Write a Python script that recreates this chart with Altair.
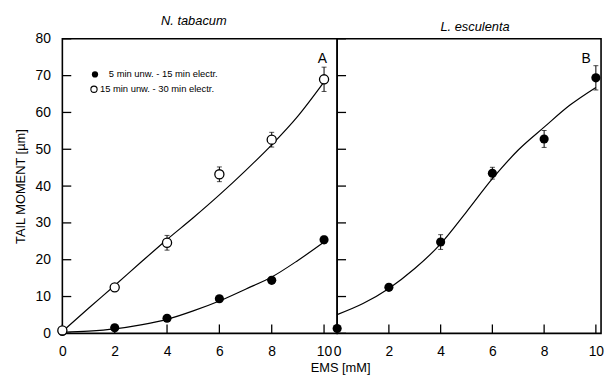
import altair as alt
import pandas as pd

# ---- data ----
dose = [0, 2, 4, 6, 8, 10]
tab_short = [0.5, 1.5, 4.1, 9.4, 14.4, 25.4]        # 5 min unw. - 15 min electr.
tab_short_err = [0.3, 0.5, 0.6, 0.7, 0.8, 1.0]
tab_long = [0.8, 12.5, 24.6, 43.2, 52.6, 69.0]      # 15 min unw. - 30 min electr.
tab_long_err = [0.6, 1.0, 2.0, 2.0, 2.0, 3.3]
esc_vals = [1.3, 12.5, 24.8, 43.5, 52.8, 69.4]
esc_err = [0.4, 0.8, 2.0, 1.6, 2.3, 3.3]

fit_x = [0, 1, 2, 3, 4, 5, 6, 7, 8, 9, 10]
fit_tab_short = [0.3, 0.6, 1.2, 2.3, 3.8, 6.1, 8.8, 12.0, 15.3, 19.8, 24.8]
fit_tab_long = [0.5, 6.8, 13.0, 19.3, 25.5, 31.4, 37.6, 44.2, 51.2, 59.0, 68.3]
fit_esc = [5.1, 8.1, 12.2, 17.6, 24.3, 33.0, 42.0, 49.8, 56.0, 62.0, 66.8]

y_ticks = [0, 10, 20, 30, 40, 50, 60, 70, 80]
x_ticks = [0, 2, 4, 6, 8, 10]
legend_labels = ["5 min unw. - 15 min electr.", "15 min unw. - 30 min electr."]
panel_titles = ["N. tabacum", "L. esculenta"]
panel_tags = ["A", "B"]

FONT = "Liberation Sans"
W1, W2, H = 278, 267, 298
TICK = 9

yscale = alt.Scale(domain=[0, 80], nice=False, zero=False)
xs1 = alt.Scale(domain=[0, 10.5], nice=False, zero=False)
xs2 = alt.Scale(domain=[0, 10.2], nice=False, zero=False)

ax_y1 = alt.Axis(values=y_ticks, ticks=False, domain=False, grid=False,
                 labelFontSize=14, labelPadding=12, labelFont=FONT,
                 title="TAIL MOMENT [µm]", titleFontSize=13, titleFont=FONT,
                 titleFontWeight="normal", titlePadding=8)
ax_y2 = alt.Axis(values=y_ticks, ticks=False, domain=False, grid=False,
                 labels=False, title=None)
ax_x1 = alt.Axis(values=x_ticks, ticks=False, domain=False, grid=False,
                 labelFontSize=14, labelPadding=11, labelFont=FONT, labelFlush=False,
                 title="EMS [mM]", titleFontSize=13, titleFont=FONT,
                 titleFontWeight="normal", titleX=W1 + 3, titlePadding=4)
ax_x2 = alt.Axis(values=x_ticks, ticks=False, domain=False, grid=False,
                 labelFontSize=14, labelPadding=11, labelFont=FONT, labelFlush=False,
                 title=None)


def panel(xscale, xaxis, yaxis, series, fits, width, tag, title, dx, legend):
    X = lambda f: alt.X(f, type="quantitative", scale=xscale, axis=xaxis)
    Y = lambda f: alt.Y(f, type="quantitative", scale=yscale, axis=yaxis)
    layers = []
    yt = pd.DataFrame({"v": y_ticks})
    xt = pd.DataFrame({"v": x_ticks})
    layers.append(alt.Chart(yt).mark_rule(color="black", strokeWidth=1.3).encode(
        y=Y("v"), x=alt.value(0), x2=alt.value(TICK)))
    layers.append(alt.Chart(xt).mark_rule(color="black", strokeWidth=1.3).encode(
        x=X("v"), y=alt.value(H), y2=alt.value(H - TICK)))
    for fx, fy in fits:
        df = pd.DataFrame({"x": fx, "y": fy})
        layers.append(alt.Chart(df).mark_line(color="black", strokeWidth=1.2,
                                              interpolate="monotone").encode(x=X("x"), y=Y("y")))
    for vals, errs, filled in series:
        df = pd.DataFrame({"x": dose, "y": vals,
                           "lo": [v - e for v, e in zip(vals, errs)],
                           "hi": [v + e for v, e in zip(vals, errs)]})
        layers.append(alt.Chart(df).mark_rule(color="black", strokeWidth=1).encode(
            x=X("x"), y=Y("lo"), y2=alt.Y2("hi")))
        layers.append(alt.Chart(df).mark_tick(color="black", orient="horizontal",
                                              size=5, thickness=1).encode(x=X("x"), y=Y("lo")))
        layers.append(alt.Chart(df).mark_tick(color="black", orient="horizontal",
                                              size=5, thickness=1).encode(x=X("x"), y=Y("hi")))
        if filled:
            m = alt.Chart(df).mark_point(filled=True, color="black", size=85, opacity=1)
        else:
            m = alt.Chart(df).mark_point(filled=False, fill="white", stroke="black",
                                         strokeWidth=1.3, size=85, opacity=1)
        layers.append(m.encode(x=X("x"), y=Y("y")))
    tagdf = pd.DataFrame({"t": [tag]})
    layers.append(alt.Chart(tagdf).mark_text(font=FONT, fontSize=14, align="center",
                                             baseline="middle", color="black").encode(
        text="t:N", x=alt.value(width - 15), y=alt.value(20)))
    if legend:
        ldf1 = pd.DataFrame({"t": [legend_labels[0]]})
        ldf2 = pd.DataFrame({"t": [legend_labels[1]]})
        layers.append(alt.Chart(ldf1).mark_point(filled=True, color="black", size=40, opacity=1).encode(
            x=alt.value(33), y=alt.value(36)))
        layers.append(alt.Chart(ldf2).mark_point(filled=False, fill="white", stroke="black",
                                                 strokeWidth=1.1, size=40, opacity=1).encode(
            x=alt.value(32), y=alt.value(51)))
        layers.append(alt.Chart(ldf1).mark_text(font=FONT, fontSize=9.5, align="left",
                                                baseline="middle", color="black").encode(
            text="t:N", x=alt.value(47), y=alt.value(36)))
        layers.append(alt.Chart(ldf2).mark_text(font=FONT, fontSize=9.5, align="left",
                                                baseline="middle", color="black").encode(
            text="t:N", x=alt.value(38), y=alt.value(51)))
    return alt.layer(*layers).properties(
        width=width, height=H,
        title=alt.TitleParams(title, font=FONT, fontSize=13, fontStyle="italic",
                              fontWeight="normal", offset=4, dx=dx, color="black"))


left = panel(xs1, ax_x1, ax_y1,
             [(tab_short, tab_short_err, True), (tab_long, tab_long_err, False)],
             [(fit_x, fit_tab_short), (fit_x, fit_tab_long)],
             W1, panel_tags[0], panel_titles[0], -6, True)
right = panel(xs2, ax_x2, ax_y2,
              [(esc_vals, esc_err, True)],
              [(fit_x, fit_esc)],
              W2, panel_tags[1], panel_titles[1], 6, False)

chart = alt.hconcat(left, right, spacing=0, bounds="flush").properties(
    padding={"left": 5, "top": 4, "right": 0, "bottom": 0},
    background="white",
).configure_view(stroke="black", strokeWidth=1.6).configure_axis(
    labelColor="black", titleColor="black")

chart.save("out.html", embed_options={"renderer": "svg", "actions": False})
